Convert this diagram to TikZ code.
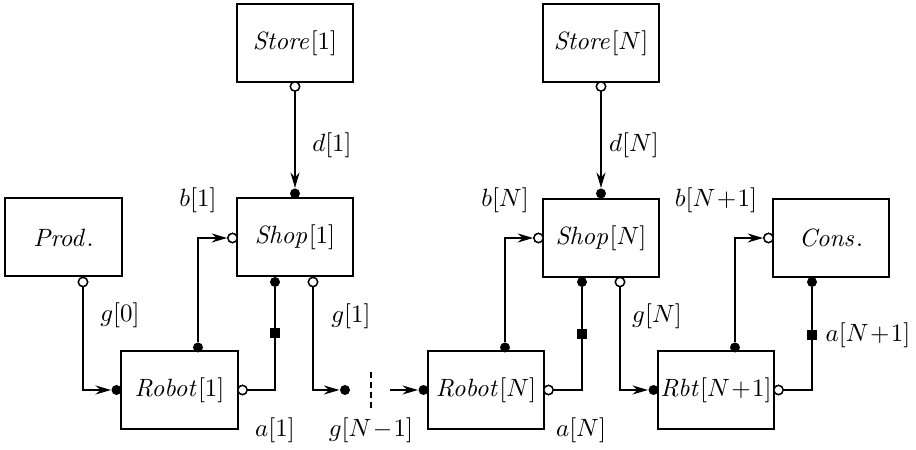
\documentclass[tikz,border=0pt]{standalone}
\usetikzlibrary{arrows.meta}
\begin{document}
\begin{tikzpicture}[x=0.4pt,y=-0.4pt,
  box/.style={draw, line width=0.8pt, minimum width=46.4pt, minimum height=31.2pt, inner sep=0pt},
  fdot/.style={circle, fill, inner sep=0pt, minimum size=4pt},
  odot/.style={circle, draw, fill=white, line width=0.55pt, inner sep=0pt, minimum size=3.7pt},
  sq/.style={rectangle, fill, inner sep=0pt, minimum size=3.8pt},
  conn/.style={line width=0.75pt},
  arr/.style={conn, -{Stealth[length=6.2pt,width=3.6pt,inset=2pt]}},
  lbl/.style={inner sep=0pt}]
\useasboundingbox (0,0) rectangle (916,450);
% boxes
\node[box] (store1) at (295,43.5) {$\mathit{Store}[1]$};
\node[box] (storeN) at (601,43.5) {$\mathit{Store}[N]$};
\node[box] (prod) at (63.5,237.5) {$\mathit{Prod.}$};
\node[box] (shop1) at (295,237.5) {$\mathit{Shop}[1]$};
\node[box] (shopN) at (601,238) {$\mathit{Shop}[N]$};
\node[box] (cons) at (831,238) {$\mathit{Cons.}$};
\node[box] (robot1) at (179.5,390.5) {$\mathit{Robot}[1]$};
\node[box] (robotN) at (486,390.5) {$\mathit{Robot}[N]$};
\node[box] (rbt) at (716,390.5) {$\mathit{Rbt}[N\!+\!1]$};
% ports
\node[odot] (st1o) at (295,86.5) {};
\node[fdot] (sh1t) at (295,193.5) {};
\node[odot] (sh1l) at (232.5,238) {};
\node[fdot] (sh1b) at (275,282) {};
\node[odot] (sh1g) at (313,282) {};
\node[odot] (prodo) at (83,282) {};
\node[fdot] (r1l) at (116.5,390) {};
\node[fdot] (r1t) at (198,347.5) {};
\node[odot] (r1r) at (242.5,390) {};
\node[fdot] (g1end) at (345,390) {};
\coordinate (gNm1) at (390,390);
\node[fdot] (rNl) at (423.5,390) {};
\node[fdot] (rNt) at (505,347.5) {};
\node[odot] (rNr) at (548.5,390) {};
\node[odot] (stNo) at (601,86.5) {};
\node[fdot] (shNt) at (601,193.5) {};
\node[odot] (shNl) at (538.5,238) {};
\node[fdot] (shNb) at (582,282) {};
\node[odot] (shNg) at (620,282) {};
\node[fdot] (rbl) at (653.5,390) {};
\node[fdot] (rbt-t) at (735,347.5) {};
\node[odot] (rbr) at (778.5,390) {};
\node[odot] (consl) at (768.5,238) {};
\node[fdot] (consb) at (812,282) {};
% connectors
\draw[arr] (st1o) -- (sh1t);
\draw[arr] (stNo) -- (shNt);
\draw[arr] (prodo) |- (r1l);
\draw[arr] (r1t) |- (sh1l);
\draw[conn] (r1r) -| (sh1b);
\draw[arr] (sh1g) |- (g1end);
\draw[arr] (gNm1) -- (rNl);
\draw[arr] (rNt) |- (shNl);
\draw[conn] (rNr) -| (shNb);
\draw[arr] (shNg) |- (rbl);
\draw[arr] (rbt-t) |- (consl);
\draw[conn] (rbr) -| (consb);
% redraw open dots on top
\foreach \n in {st1o,sh1l,sh1g,prodo,r1r,rNr,stNo,shNl,shNg,rbr,consl}
  \node[odot] at (\n) {};
% squares
\node[sq] (q1) at (275,333) {};
\node[sq] (qN) at (582,334) {};
\node[sq] (qC) at (812,335) {};
% dashed separator
\coordinate (ds1) at (371,372);
\coordinate (ds2) at (371,408);
\draw[line width=0.5pt, dash pattern=on 2.4pt off 1.6pt] (ds1) -- (ds2);
% labels
\node[lbl] (ld1) at (332,145) {$d[1]$};
\node[lbl] (ldN) at (634,145) {$d[N]$};
\node[lbl] (lb1) at (198,200) {$b[1]$};
\node[lbl] (lbN) at (505,200) {$b[N]$};
\node[lbl] (lbN1) at (716,200) {$b[N\!+\!1]$};
\node[lbl] (lg0) at (120,315) {$g[0]$};
\node[lbl] (lg1) at (351,316) {$g[1]$};
\node[lbl] (lgN) at (657,316) {$g[N]$};
\node[lbl] (la1) at (275,430) {$a[1]$};
\node[lbl] (lgNm1) at (371,430) {$g[N\!-\!1]$};
\node[lbl] (laN) at (581,430) {$a[N]$};
\node[lbl] (laN1) at (868,335) {$a[N\!+\!1]$};
\end{tikzpicture}
\end{document}
